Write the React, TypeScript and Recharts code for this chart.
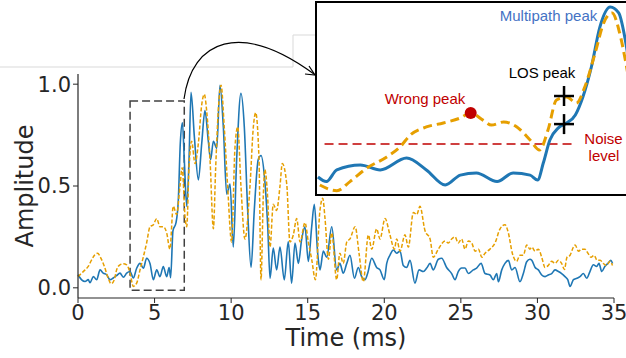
import {
  LineChart,
  Line,
  XAxis,
  YAxis,
  ReferenceArea,
  ReferenceLine,
  ReferenceDot,
} from 'recharts';

// main plot axes
const xTicks = [0, 5, 10, 15, 20, 25, 30, 35];
const yTicks = [0, 0.5, 1];

// blue (solid) trace, time in ms
const blueTime = [
  0.0, 0.24, 0.46, 0.67, 0.78, 1.0, 1.22, 1.44, 1.65, 1.87, 2.09, 2.3, 2.52, 2.74, 2.96, 3.18,
  3.4, 3.61, 3.83, 4.05, 4.27, 4.48, 4.7, 4.92, 5.14, 5.35, 5.57, 5.79, 5.95, 6.05, 6.2, 6.4,
  6.55, 6.68, 6.82, 6.94, 7.1, 7.25, 7.38, 7.6, 7.86, 8.08, 8.29, 8.51, 8.66, 8.84, 9.06, 9.27,
  9.49, 9.71, 9.93, 10.14, 10.36, 10.64, 10.86, 11.08, 11.3, 11.51, 11.77, 11.95, 12.17, 12.39,
  12.54, 12.75, 12.97, 13.19, 13.47, 13.73, 13.95, 14.17, 14.39, 14.6, 14.82, 15.04, 15.26,
  15.43, 15.65, 15.8, 16.02, 16.24, 16.57, 16.89, 17.1, 17.32, 17.55, 17.76, 18.05, 18.3,
  18.52, 18.74, 18.91, 19.18, 19.5, 19.72, 20.0, 20.16, 20.37, 20.59, 20.81, 21.03, 21.24,
  21.46, 21.68, 22.0, 22.27, 22.55, 22.77, 22.99, 23.2, 23.53, 23.75, 24.07, 24.4, 24.62,
  24.83, 25.05, 25.27, 25.49, 25.81, 26.03, 26.32, 26.58, 26.9, 27.12, 27.34, 27.45, 27.67,
  27.88, 28.1, 28.32, 28.54, 28.86, 29.08, 29.3, 29.51, 29.63, 29.85, 30.06, 30.28, 30.5,
  30.71, 30.93, 31.15, 31.37, 31.58, 31.8, 31.98, 32.13, 32.35, 32.57, 32.78, 33.0, 33.22,
  33.43, 33.65, 33.87, 34.02, 34.2, 34.4, 34.6, 34.8, 34.9,
];
const blueAmp = [
  0.064, 0.039, 0.031, 0.04, 0.025, 0.055, 0.04, 0.088, 0.072, 0.064, 0.04, 0.048, 0.06, 0.072,
  0.052, 0.072, 0.08, 0.048, 0.096, 0.12, 0.096, 0.145, 0.12, 0.04, 0.088, 0.055, 0.104, 0.055,
  0.1, 0.05, 0.28, 0.32, 0.43, 0.71, 0.81, 0.63, 0.4, 0.63, 0.96, 0.74, 0.53, 0.71, 0.87, 0.72,
  0.63, 0.72, 0.685, 0.995, 0.79, 0.46, 0.51, 0.2, 0.63, 0.955, 0.79, 0.38, 0.1, 0.38, 0.63,
  0.65, 0.55, 0.3, 0.047, 0.195, 0.088, 0.2, 0.039, 0.227, 0.023, 0.22, 0.12, 0.235, 0.3, 0.13,
  0.3, 0.41, 0.17, 0.088, 0.18, 0.15, 0.3, 0.088, 0.12, 0.072, 0.12, 0.16, 0.047, 0.1, 0.055,
  0.04, 0.07, 0.145, 0.1, 0.088, 0.04, 0.12, 0.16, 0.186, 0.17, 0.18, 0.11, 0.1, 0.135, 0.023,
  0.088, 0.08, 0.097, 0.12, 0.088, 0.14, 0.145, 0.1, 0.07, 0.04, 0.08, 0.097, 0.097, 0.07,
  0.088, 0.097, 0.12, 0.07, 0.063, 0.04, 0.07, 0.03, 0.088, 0.12, 0.135, 0.088, 0.1, 0.03, 0.07,
  0.128, 0.14, 0.135, 0.1, 0.088, 0.063, 0.055, 0.063, 0.07, 0.088, 0.08, 0.07, 0.055, 0.04,
  0.007, 0.04, 0.047, 0.055, 0.07, 0.047, 0.08, 0.113, 0.105, 0.12, 0.08, 0.105, 0.12, 0.135,
  0.12,
];

// orange (dashed) trace
const orangeTime = [
  0.0, 0.24, 0.46, 0.67, 0.89, 1.1, 1.28, 1.5, 1.72, 1.94, 2.16, 2.37, 2.52, 2.74, 2.96, 3.18,
  3.4, 3.61, 3.83, 4.05, 4.27, 4.48, 4.7, 4.92, 5.14, 5.35, 5.57, 5.79, 6.0, 6.22, 6.44, 6.66,
  6.8, 7.0, 7.1, 7.25, 7.42, 7.64, 7.86, 8.08, 8.25, 8.4, 8.62, 8.84, 8.99, 9.16, 9.34, 9.55,
  9.77, 10.03, 10.25, 10.43, 10.64, 10.9, 11.23, 11.45, 11.6, 11.82, 11.95, 12.1, 12.2, 12.38,
  12.54, 12.75, 12.97, 13.19, 13.34, 13.63, 13.84, 14.06, 14.28, 14.5, 14.82, 15.04, 15.26,
  15.5, 15.8, 15.98, 16.13, 16.35, 16.57, 16.89, 17.1, 17.32, 17.55, 17.76, 18.1, 18.35, 18.63,
  18.96, 19.18, 19.5, 19.72, 20.05, 20.37, 20.66, 20.81, 21.03, 21.35, 21.57, 21.9, 22.12,
  22.33, 22.66, 22.99, 23.2, 23.53, 23.97, 24.18, 24.4, 24.62, 24.83, 25.05, 25.27, 25.49,
  25.71, 25.93, 26.15, 26.37, 26.58, 26.9, 27.23, 27.56, 27.88, 28.1, 28.36, 28.64, 28.86,
  29.08, 29.3, 29.51, 29.63, 29.85, 30.06, 30.28, 30.5, 30.71, 30.93, 31.15, 31.37, 31.58,
  31.76, 31.93, 32.13, 32.35, 32.46, 32.68, 32.9, 33.1, 33.3, 33.5, 33.7, 33.9, 34.1, 34.3,
  34.5, 34.75, 34.9,
];
const orangeAmp = [
  0.055, 0.072, 0.088, 0.105, 0.137, 0.162, 0.17, 0.145, 0.105, 0.055, 0.02, 0.04, 0.088, 0.113,
  0.118, 0.113, 0.072, 0.007, 0.023, 0.088, 0.153, 0.22, 0.3, 0.31, 0.34, 0.3, 0.3, 0.27, 0.19,
  0.4, 0.36, 0.5, 0.59, 0.34, 0.3, 0.59, 0.72, 0.61, 0.71, 0.9, 0.95, 0.87, 0.63, 0.29, 0.59,
  0.87, 0.995, 0.79, 0.5, 0.225, 0.69, 0.79, 0.5, 0.24, 0.5, 0.79, 0.86, 0.63, 0.04, 0.45, 0.58,
  0.45, 0.2, 0.41, 0.38, 0.5, 0.61, 0.51, 0.225, 0.26, 0.34, 0.225, 0.32, 0.225, 0.14, 0.04,
  0.38, 0.44, 0.34, 0.14, 0.27, 0.04, 0.17, 0.12, 0.225, 0.24, 0.3, 0.17, 0.03, 0.26, 0.19,
  0.29, 0.24, 0.34, 0.26, 0.19, 0.24, 0.18, 0.26, 0.2, 0.37, 0.36, 0.4, 0.28, 0.24, 0.15, 0.19,
  0.23, 0.22, 0.24, 0.25, 0.22, 0.24, 0.19, 0.23, 0.22, 0.18, 0.19, 0.15, 0.17, 0.19, 0.22,
  0.29, 0.31, 0.27, 0.17, 0.13, 0.16, 0.16, 0.21, 0.19, 0.2, 0.18, 0.19, 0.15, 0.1, 0.11, 0.13,
  0.12, 0.135, 0.12, 0.09, 0.15, 0.16, 0.2, 0.21, 0.18, 0.19, 0.19, 0.17, 0.15, 0.16, 0.135,
  0.135, 0.12, 0.11, 0.13, 0.11,
];

// zoom window drawn as dashed box on the main plot
const zoomBox = { t1: 3.4, t2: 6.94, a1: -0.012, a2: 0.917 };

// inset (zoomed view), normalised amplitude
const insetBlueTime = [
  3.41, 3.5, 3.61, 3.86, 4.07, 4.35, 4.56, 4.76, 4.92, 5.09, 5.31, 5.48, 5.66, 5.74, 5.8, 5.87,
  5.96, 6.05, 6.14, 6.22, 6.31, 6.4, 6.51, 6.6, 6.67, 6.77,
];
const insetBlueAmp = [
  0.089, 0.065, 0.126, 0.152, 0.126, 0.188, 0.126, 0.047, 0.099, 0.11, 0.065, 0.11, 0.099, 0.073,
  0.162, 0.283, 0.346, 0.372, 0.414, 0.508, 0.665, 0.874, 0.979, 0.948, 0.806, 0.45,
];
const insetOrangeTime = [
  3.43, 3.61, 3.75, 3.93, 4.14, 4.28, 4.39, 4.56, 4.74, 4.92, 5.03, 5.16, 5.25, 5.38, 5.52, 5.66,
  5.76, 5.85, 5.94, 6.05, 6.15, 6.24, 6.35, 6.44, 6.53, 6.61, 6.67, 6.77,
];
const insetOrangeAmp = [
  0.047, 0.017, 0.065, 0.136, 0.194, 0.246, 0.309, 0.351, 0.372, 0.398, 0.424, 0.387, 0.361,
  0.377, 0.351, 0.283, 0.23, 0.335, 0.492, 0.508, 0.476, 0.56, 0.738, 0.895, 0.948, 0.843, 0.702,
  0.4,
];
const noiseLevel = 0.262;
const noiseSpan = [3.48, 6.15];
const wrongPeak = [5.03, 0.424];
const losTime = 6.02;
const losAmps = [0.513, 0.366];

const BLUE = '#1f77b4';
const ORANGE = '#e69f00';
const RED = '#c00000';
const INK = '#262626';

const rows = (ts: number[], vs: number[]) => ts.map((t, i) => ({ t, v: vs[i] }));

const blueRows = rows(blueTime, blueAmp);
const orangeRows = rows(orangeTime, orangeAmp);
const insetBlueRows = rows(insetBlueTime, insetBlueAmp);
const insetOrangeRows = rows(insetOrangeTime, insetOrangeAmp);

const Plus = (props: any) => {
  const { cx, cy } = props;
  return (
    <g stroke="#000" strokeWidth={2.5}>
      <line x1={cx - 10} x2={cx + 10} y1={cy} y2={cy} />
      <line x1={cx} x2={cx} y1={cy - 10} y2={cy + 10} />
    </g>
  );
};

export default function App() {
  return (
    <div
      style={{
        position: 'fixed',
        left: 0,
        top: 0,
        width: 626,
        height: 358,
        overflow: 'hidden',
        background: '#fff',
        fontFamily: 'DejaVu Sans',
      }}
    >
      <LineChart width={626} height={358} margin={{ top: 74, right: 12, bottom: 0, left: 0 }}>
        <XAxis
          dataKey="t"
          type="number"
          domain={[0, 35]}
          ticks={xTicks}
          height={60}
          tickSize={5}
          tick={{ fontSize: 21, fill: INK }}
          axisLine={{ stroke: INK, strokeWidth: 1.2 }}
          tickLine={{ stroke: INK }}
          label={{ value: 'Time (ms)', position: 'insideBottom', offset: 12, fontSize: 24, fill: INK }}
        />
        <YAxis
          type="number"
          domain={[-0.05, 1.05]}
          ticks={yTicks}
          width={78}
          tickSize={5}
          tickFormatter={(v: number) => v.toFixed(1)}
          tick={{ fontSize: 21, fill: INK }}
          axisLine={{ stroke: INK, strokeWidth: 1.2 }}
          tickLine={{ stroke: INK }}
          label={{ value: 'Amplitude', angle: -90, position: 'center', dx: -15, fontSize: 24, fill: INK }}
        />
        <Line
          data={blueRows}
          dataKey="v"
          type="monotone"
          stroke={BLUE}
          strokeWidth={1.6}
          dot={false}
          isAnimationActive={false}
        />
        <Line
          data={orangeRows}
          dataKey="v"
          type="monotone"
          stroke={ORANGE}
          strokeWidth={1.5}
          strokeDasharray="4 2"
          dot={false}
          isAnimationActive={false}
        />
        <ReferenceArea
          x1={zoomBox.t1}
          x2={zoomBox.t2}
          y1={zoomBox.a1}
          y2={zoomBox.a2}
          fill="none"
          fillOpacity={0}
          stroke="#404040"
          strokeWidth={1.5}
          strokeDasharray="8 4"
        />
      </LineChart>

      <div
        style={{
          position: 'absolute',
          left: 315,
          top: 1,
          width: 330,
          height: 191,
          border: '2px solid #000',
          background: '#fff',
        }}
      >
        <LineChart width={330} height={191} margin={{ top: 0, right: 0, bottom: 0, left: 0 }}>
          <XAxis dataKey="t" type="number" domain={[3.4, 6.9]} hide />
          <YAxis type="number" domain={[0, 1]} hide width={0} />
          <ReferenceLine
            segment={[
              { x: noiseSpan[0], y: noiseLevel },
              { x: noiseSpan[1], y: noiseLevel },
            ]}
            stroke={RED}
            strokeWidth={1.5}
            strokeDasharray="9 5"
          />
          <Line
            data={insetBlueRows}
            dataKey="v"
            type="monotone"
            stroke={BLUE}
            strokeWidth={3}
            dot={false}
            isAnimationActive={false}
          />
          <Line
            data={insetOrangeRows}
            dataKey="v"
            type="monotone"
            stroke={ORANGE}
            strokeWidth={3}
            strokeDasharray="9 5"
            dot={false}
            isAnimationActive={false}
          />
          <ReferenceDot x={wrongPeak[0]} y={wrongPeak[1]} r={6} fill={RED} stroke="none" />
          {losAmps.map((a) => (
            <ReferenceDot key={a} x={losTime} y={a} shape={Plus} />
          ))}
        </LineChart>
      </div>

      <svg
        width={626}
        height={358}
        style={{ position: 'absolute', left: 0, top: 0, pointerEvents: 'none' }}
      >
        <path d="M0 67 H293 V35 H315" fill="none" stroke="#d9d9d9" strokeWidth={1} />
        <path d="M184 99 C192 40 240 20 314 74" fill="none" stroke="#000" strokeWidth={1.2} />
        <path d="M305 74 L315 75 L309 66" fill="none" stroke="#000" strokeWidth={1.2} />
        <g fontFamily="Liberation Sans, Arial, sans-serif" fontSize={15} textAnchor="middle">
          <text x={548.5} y={21} fill="#4472c4">Multipath peak</text>
          <text x={542} y={78} fill="#000">LOS peak</text>
          <text x={425} y={104} fill={RED}>Wrong peak</text>
          <text x={603.5} y={144} fill={RED}>Noise</text>
          <text x={604} y={161} fill={RED}>level</text>
        </g>
      </svg>
    </div>
  );
}
